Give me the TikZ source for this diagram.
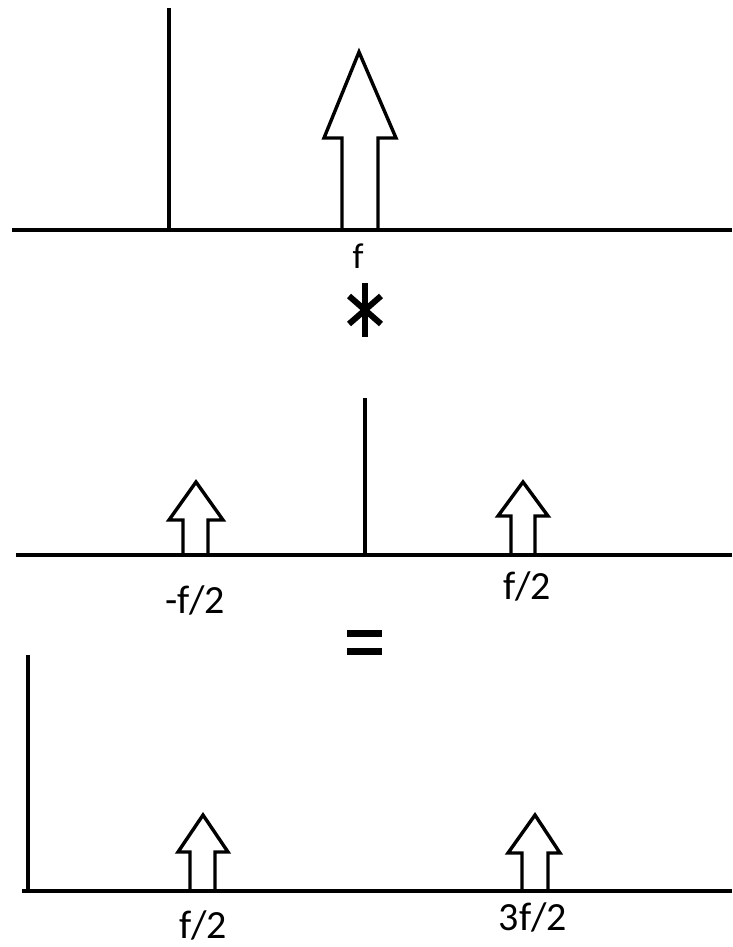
\documentclass[tikz,border=0pt]{standalone}
\usepackage{fontspec}
\setmainfont{Carlito}
\begin{document}
\begin{tikzpicture}[x=1pt,y=-1pt,
  ln/.style={line width=3.2pt},
  harrow/.style={line width=3.4pt, line join=miter},
  lbl/.style={font=\fontsize{40}{46}\selectfont, inner sep=0pt}]
\useasboundingbox (0,0) rectangle (732,947);
% ---- top panel
\coordinate (a1l) at (12,230); \coordinate (a1r) at (732,230);
\draw[ln] (a1l) -- (a1r);
\coordinate (v1t) at (169,8); \coordinate (v1b) at (169,230);
\draw[ln] (v1t) -- (v1b);
\draw[harrow] (342,230) -- (342,138) -- (324,138) -- (359,52) -- (396,138) -- (378,138) -- (378,230);
\node[lbl, font=\fontsize{36}{42}\selectfont] (lf) at (358,256) {f};
% asterisk
\coordinate (sc) at (365,310);
\draw[line width=6pt] (365,283) -- (365,337);
\draw[line width=6pt] (349,296) -- (381,324);
\draw[line width=6pt] (381,296) -- (349,324);
% ---- middle panel
\coordinate (a2l) at (16,555); \coordinate (a2r) at (732,555);
\draw[ln] (a2l) -- (a2r);
\coordinate (v2t) at (365,398); \coordinate (v2b) at (365,555);
\draw[ln] (v2t) -- (v2b);
\draw[harrow] (183,555) -- (183,520) -- (169,520) -- (196,482) -- (223,520) -- (208,520) -- (208,555);
\draw[harrow] (511,555) -- (511,516) -- (498,516) -- (523,482) -- (548,516) -- (535,516) -- (535,555);
\node[lbl] (lm1) at (195,600) {-f/2};
\node[lbl] (lm2) at (527,586) {f/2};
% equals
\node (eq) at (365,642) {};
\fill (347,630) rectangle (382,637);
\fill (347,648) rectangle (382,655);
% ---- bottom panel
\coordinate (a3l) at (22,891); \coordinate (a3r) at (732,891);
\draw[ln] (a3l) -- (a3r);
\coordinate (v3t) at (28,655); \coordinate (v3b) at (28,891);
\draw[ln] (v3t) -- (v3b);
\draw[harrow] (190,891) -- (190,852) -- (178,852) -- (203,815) -- (228,852) -- (215,852) -- (215,891);
\draw[harrow] (522,891) -- (522,853) -- (508,853) -- (535,815) -- (560,853) -- (548,853) -- (548,891);
\node[lbl] (lb1) at (203,925) {f/2};
\node[lbl] (lb2) at (533,917) {3f/2};
\end{tikzpicture}
\end{document}
